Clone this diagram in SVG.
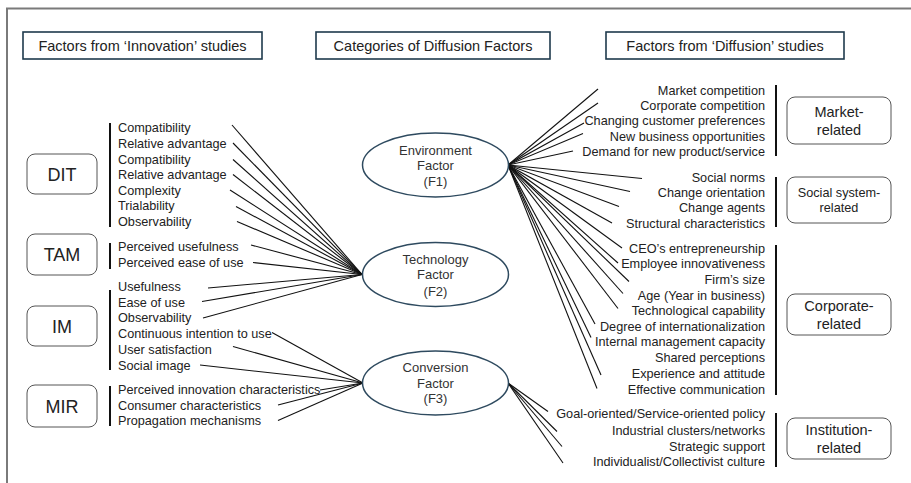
<svg xmlns="http://www.w3.org/2000/svg" width="911" height="483" viewBox="0 0 911 483">
<style>
text{font-family:"Liberation Sans",Arial,sans-serif;fill:#222}
.hd{font-size:14.5px;text-anchor:middle}
.hbox{fill:#fff;stroke:#1f3a4d;stroke-width:1.6}
.node{fill:#fff;stroke:#555;stroke-width:1}
.ell{fill:#fff;stroke:#2e4a5f;stroke-width:1.5}
.it{font-size:12.7px}
.ir{font-size:12.7px;text-anchor:end}
.big{font-size:18px;text-anchor:middle}
.rb{font-size:14.5px;text-anchor:middle}
.et{font-size:13px;text-anchor:middle;fill:#333}
.bar{stroke:#111;stroke-width:2}
.c line{stroke:#111;stroke-width:1.1}
</style>
<rect width="911" height="483" fill="#fff"/>
<path d="M911 8.5H7V483" fill="none" stroke="#7a7a7a" stroke-width="2"/>

<g id="h1"><rect class="hbox" x="23" y="32" width="239" height="27"/><text class="hd" x="142.5" y="51">Factors from ‘Innovation’ studies</text></g>
<g id="h2"><rect class="hbox" x="316" y="32" width="234" height="27"/><text class="hd" x="433" y="51">Categories of Diffusion Factors</text></g>
<g id="h3"><rect class="hbox" x="606" y="32" width="238" height="27"/><text class="hd" x="725" y="51">Factors from ‘Diffusion’ studies</text></g>

<g class="c" id="connectors">
<line x1="232" y1="125" x2="362" y2="274.5"/>
<line x1="233" y1="143" x2="362" y2="274.5"/>
<line x1="233" y1="159.5" x2="362" y2="274.5"/>
<line x1="233" y1="174.5" x2="362" y2="274.5"/>
<line x1="230" y1="190" x2="362" y2="274.5"/>
<line x1="236" y1="206.5" x2="362" y2="274.5"/>
<line x1="237" y1="221.5" x2="362" y2="274.5"/>
<line x1="251" y1="245" x2="362" y2="274.5"/>
<line x1="253" y1="262.5" x2="362" y2="274.5"/>
<line x1="208" y1="288" x2="362" y2="274.5"/>
<line x1="202" y1="301.5" x2="362" y2="274.5"/>
<line x1="203" y1="318" x2="362" y2="274.5"/>
<line x1="272" y1="332.5" x2="363" y2="383"/>
<line x1="233" y1="346.5" x2="363" y2="383"/>
<line x1="200" y1="365" x2="363" y2="383"/>
<line x1="320" y1="390" x2="363" y2="383"/>
<line x1="278" y1="405" x2="363" y2="383"/>
<line x1="278" y1="420.5" x2="363" y2="383"/>
<line x1="508" y1="165" x2="598" y2="89"/>
<line x1="508" y1="165" x2="598" y2="103"/>
<line x1="508" y1="165" x2="584" y2="123"/>
<line x1="508" y1="165" x2="583" y2="133.5"/>
<line x1="508" y1="165" x2="573" y2="151"/>
<line x1="508" y1="165" x2="642" y2="178.5"/>
<line x1="508" y1="165" x2="630" y2="191.5"/>
<line x1="508" y1="165" x2="619" y2="206.5"/>
<line x1="508" y1="165" x2="612" y2="223"/>
<line x1="508" y1="165" x2="622" y2="248"/>
<line x1="508" y1="165" x2="618" y2="263"/>
<line x1="508" y1="165" x2="629" y2="281.5"/>
<line x1="508" y1="165" x2="623" y2="293.5"/>
<line x1="508" y1="165" x2="618" y2="308.5"/>
<line x1="508" y1="165" x2="595" y2="324"/>
<line x1="508" y1="165" x2="591" y2="337.5"/>
<line x1="508" y1="165" x2="601" y2="375"/>
<line x1="508" y1="165" x2="597" y2="388.5"/>
<line x1="508" y1="383" x2="548" y2="411.5"/>
<line x1="508" y1="383" x2="557" y2="431.5"/>
<line x1="508" y1="383" x2="562" y2="446.5"/>
<line x1="508" y1="383" x2="563" y2="463"/>
</g>

<g id="DIT"><rect class="node" x="27" y="154" width="70" height="40" rx="8"/><text class="big" x="62" y="181">DIT</text>
<line class="bar" x1="110" y1="123" x2="110" y2="227"/>
<text class="it" x="118" y="131.5">Compatibility</text>
<text class="it" x="118" y="147.5">Relative advantage</text>
<text class="it" x="118" y="163.5">Compatibility</text>
<text class="it" x="118" y="179">Relative advantage</text>
<text class="it" x="118" y="194.5">Complexity</text>
<text class="it" x="118" y="210">Trialability</text>
<text class="it" x="118" y="225.5">Observability</text>
</g>
<g id="TAM"><rect class="node" x="27" y="234" width="70" height="41" rx="8"/><text class="big" x="62" y="261">TAM</text>
<line class="bar" x1="110" y1="243" x2="110" y2="269"/>
<text class="it" x="118" y="250.5">Perceived usefulness</text>
<text class="it" x="118" y="267">Perceived ease of use</text>
</g>
<g id="IM"><rect class="node" x="27" y="306" width="70" height="40" rx="8"/><text class="big" x="62" y="332.5">IM</text>
<line class="bar" x1="110" y1="290" x2="110" y2="370"/>
<text class="it" x="118" y="291">Usefulness</text>
<text class="it" x="118" y="306.5">Ease of use</text>
<text class="it" x="118" y="322">Observability</text>
<text class="it" x="118" y="337.5">Continuous intention to use</text>
<text class="it" x="118" y="353.5">User satisfaction</text>
<text class="it" x="118" y="369.5">Social image</text>
</g>
<g id="MIR"><rect class="node" x="27" y="385" width="70" height="42" rx="8"/><text class="big" x="62" y="412.5">MIR</text>
<line class="bar" x1="110" y1="386" x2="110" y2="426"/>
<text class="it" x="118" y="394">Perceived innovation characteristics</text>
<text class="it" x="118" y="409.5">Consumer characteristics</text>
<text class="it" x="118" y="425">Propagation mechanisms</text>
</g>

<g id="F1"><ellipse class="ell" cx="435.5" cy="165" rx="73" ry="32"/>
<text class="et" x="435.5" y="154.5">Environment</text><text class="et" x="435.5" y="170">Factor</text><text class="et" x="435.5" y="185.5">(F1)</text></g>
<g id="F2"><ellipse class="ell" cx="435.5" cy="274.5" rx="73" ry="32"/>
<text class="et" x="435.5" y="264">Technology</text><text class="et" x="435.5" y="279">Factor</text><text class="et" x="435.5" y="295.5">(F2)</text></g>
<g id="F3"><ellipse class="ell" cx="435.5" cy="383" rx="73" ry="32"/>
<text class="et" x="435.5" y="371.5">Conversion</text><text class="et" x="435.5" y="387.5">Factor</text><text class="et" x="435.5" y="403">(F3)</text></g>

<g id="market"><rect class="node" x="787" y="97" width="104" height="47" rx="8"/>
<text class="rb" x="839" y="117">Market-</text><text class="rb" x="839" y="135">related</text>
<line class="bar" x1="776" y1="85" x2="776" y2="156"/>
<text class="ir" x="765" y="94.5">Market competition</text>
<text class="ir" x="765" y="109.5">Corporate competition</text>
<text class="ir" x="765" y="125">Changing customer preferences</text>
<text class="ir" x="765" y="140.5">New business opportunities</text>
<text class="ir" x="765" y="155.5">Demand for new product/service</text>
</g>
<g id="social"><rect class="node" x="787" y="177" width="104" height="46" rx="8"/>
<text class="it" text-anchor="middle" x="839" y="197">Social system-</text><text class="it" text-anchor="middle" x="839" y="212">related</text>
<line class="bar" x1="776" y1="177" x2="776" y2="227"/>
<text class="ir" x="765" y="182">Social norms</text>
<text class="ir" x="765" y="197">Change orientation</text>
<text class="ir" x="765" y="212">Change agents</text>
<text class="ir" x="765" y="228">Structural characteristics</text>
</g>
<g id="corporate"><rect class="node" x="787" y="294" width="104" height="41" rx="8"/>
<text class="rb" x="839" y="311">Corporate-</text><text class="rb" x="839" y="328.5">related</text>
<line class="bar" x1="776" y1="245" x2="776" y2="395"/>
<text class="ir" x="765" y="253">CEO’s entrepreneurship</text>
<text class="ir" x="765" y="268">Employee innovativeness</text>
<text class="ir" x="765" y="284">Firm’s size</text>
<text class="ir" x="765" y="299.5">Age (Year in business)</text>
<text class="ir" x="765" y="315">Technological capability</text>
<text class="ir" x="765" y="330.5">Degree of internationalization</text>
<text class="ir" x="765" y="346">Internal management capacity</text>
<text class="ir" x="765" y="362">Shared perceptions</text>
<text class="ir" x="765" y="377.5">Experience and attitude</text>
<text class="ir" x="765" y="393.5">Effective communication</text>
</g>
<g id="institution"><rect class="node" x="787" y="418" width="104" height="41" rx="8"/>
<text class="rb" x="839" y="435">Institution-</text><text class="rb" x="839" y="453">related</text>
<line class="bar" x1="776" y1="413" x2="776" y2="467"/>
<text class="ir" x="765" y="418">Goal-oriented/Service-oriented policy</text>
<text class="ir" x="765" y="434.5">Industrial clusters/networks</text>
<text class="ir" x="765" y="450.5">Strategic support</text>
<text class="ir" x="765" y="466">Individualist/Collectivist culture</text>
</g>
</svg>
